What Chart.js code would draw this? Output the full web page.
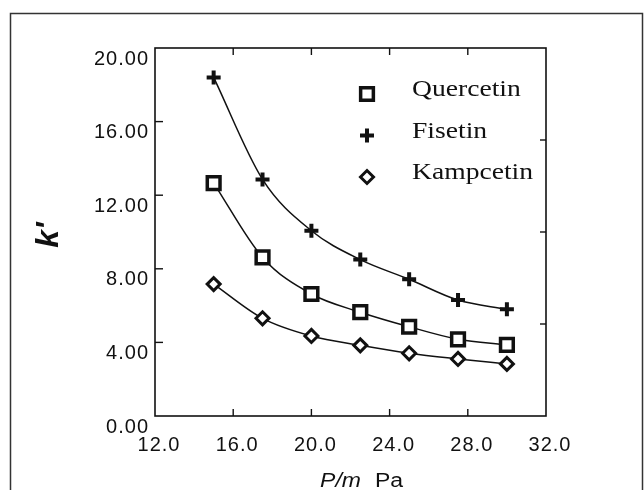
<!DOCTYPE html>
<html>
<head>
<meta charset="utf-8">
<title>k' vs P/m</title>
<script src="https://cdn.jsdelivr.net/npm/chart.js@4.4.1/dist/chart.umd.min.js"></script>
<style>
  html, body { margin: 0; padding: 0; background: #fff; }
  canvas { display: block; }
</style>
</head>
<body>
<canvas id="myChart" width="644" height="490"></canvas>
<script>
// Pressure (P/m, Pa)
const pressures = [15, 17.5, 20, 22.5, 25, 27.5, 30];

// k' values
const quercetin = [12.66, 8.62, 6.63, 5.64, 4.85, 4.17, 3.86];
const fisetin = [18.4, 12.86, 10.07, 8.5, 7.43, 6.3, 5.8];
const kampcetin = [7.17, 5.31, 4.35, 3.84, 3.41, 3.1, 2.83];

const seriesNames = ["Quercetin", "Fisetin", "Kampcetin"];

// inner tick marks on each side of the box
const bottomTicks = [16, 20, 24, 28];
const topTicks = [16, 20, 24, 28];
const leftTicks = [4, 8, 12, 16];
const rightTicks = [5, 10, 15];

const INK = "#111";

const toPoints = (ys) => pressures.map((x, i) => ({ x: x, y: ys[i] }));

const makeDataset = (label, ys, style, radius, width) => ({
    label: label,
    data: toPoints(ys),
    showLine: true,
    cubicInterpolationMode: "monotone",
    borderColor: INK,
    borderWidth: 1.5,
    pointStyle: style,
    pointRadius: radius,
    pointBorderWidth: width,
    pointBackgroundColor: "#fff",
    pointBorderColor: INK,
});

// draw text stretched horizontally (the scan is a bit wide)
const stretchText = (ctx, text, x, y, sx) => {
    ctx.save();
    ctx.translate(x, y);
    ctx.scale(sx, 1);
    ctx.fillText(text, 0, 0);
    ctx.restore();
};

const line = (ctx, x1, y1, x2, y2) => {
    ctx.beginPath();
    ctx.moveTo(x1, y1);
    ctx.lineTo(x2, y2);
    ctx.stroke();
};

const framePlugin = {
    id: "frame",
    beforeDraw(chart) {
        const ctx = chart.ctx;
        ctx.save();
        ctx.fillStyle = "#fff";
        ctx.fillRect(0, 0, chart.width, chart.height);
        ctx.strokeStyle = "#333";
        ctx.lineWidth = 1.5;
        ctx.strokeRect(10.5, 13.5, 632, 500);
        ctx.restore();
        // tick labels in the scan are spaced out a little
        if ("letterSpacing" in ctx) ctx.letterSpacing = "1px";
    },
    afterDraw(chart) {
        const ctx = chart.ctx;
        const a = chart.chartArea;
        const x = chart.scales.x;
        const y = chart.scales.y;
        if ("letterSpacing" in ctx) ctx.letterSpacing = "0px";
        ctx.save();
        ctx.strokeStyle = INK;
        ctx.lineWidth = 1.6;
        ctx.strokeRect(a.left, a.top, a.right - a.left, a.bottom - a.top);

        // inward ticks
        ctx.lineWidth = 1.4;
        bottomTicks.forEach((v) => {
            const px = x.getPixelForValue(v);
            line(ctx, px, a.bottom, px, a.bottom - 7);
        });
        topTicks.forEach((v) => {
            const px = x.getPixelForValue(v);
            line(ctx, px, a.top, px, a.top + 7);
        });
        leftTicks.forEach((v) => {
            const py = y.getPixelForValue(v);
            line(ctx, a.left, py, a.left + 8, py);
        });
        rightTicks.forEach((v) => {
            const py = y.getPixelForValue(v);
            line(ctx, a.right, py, a.right - 6, py);
        });

        // axis titles
        ctx.fillStyle = INK;
        ctx.save();
        ctx.translate(49, 235);
        ctx.rotate(-Math.PI / 2);
        ctx.font = "italic bold 32px 'Liberation Sans', Arial, sans-serif";
        ctx.textAlign = "center";
        ctx.textBaseline = "middle";
        ctx.fillText("k'", 0, 0);
        ctx.restore();

        ctx.textBaseline = "alphabetic";
        ctx.font = "italic 20px 'Liberation Sans', Arial, sans-serif";
        ctx.textAlign = "right";
        stretchText(ctx, "P/m", 361, 487, 1.15);
        ctx.font = "20px 'Liberation Sans', Arial, sans-serif";
        ctx.textAlign = "left";
        stretchText(ctx, "Pa", 375, 487, 1.15);

        // legend
        ctx.font = "24px 'Liberation Serif', 'Times New Roman', serif";
        ctx.textAlign = "left";
        chart.data.datasets.forEach((ds, i) => {
            const my = 94 + i * 41.5;
            ctx.strokeStyle = INK;
            ctx.fillStyle = "#fff";
            ctx.lineWidth = ds.pointBorderWidth;
            Chart.helpers.drawPoint(ctx, {
                pointStyle: ds.pointStyle,
                radius: ds.pointRadius,
                rotation: 0,
                borderWidth: ds.pointBorderWidth,
            }, 367, my);
            ctx.fillStyle = INK;
            stretchText(ctx, seriesNames[i], 412, my + 2, 1.15);
        });
        ctx.restore();
    },
};

const ctx = document.getElementById("myChart").getContext("2d");
const myChart = new Chart(ctx, {
    type: "scatter",
    data: {
        datasets: [
            makeDataset(seriesNames[0], quercetin, "rect", 9, 3.5),
            makeDataset(seriesNames[1], fisetin, "cross", 7, 4),
            makeDataset(seriesNames[2], kampcetin, "rectRot", 6.5, 3),
        ],
    },
    options: {
        responsive: false,
        animation: false,
        layout: { padding: { top: 48, right: 98, left: 0, bottom: 0 } },
        plugins: {
            legend: { display: false },
            tooltip: { enabled: false },
        },
        scales: {
            x: {
                type: "linear",
                min: 12,
                max: 32,
                grid: { display: false, drawTicks: false },
                border: { display: false },
                afterFit: (scale) => { scale.height = 74; },
                ticks: {
                    stepSize: 4,
                    padding: 17,
                    labelOffset: 4,
                    color: INK,
                    font: { family: "'Liberation Sans', Arial, sans-serif", size: 20 },
                    callback: (v) => v.toFixed(1),
                },
            },
            y: {
                min: 0,
                max: 20,
                grid: { display: false, drawTicks: false },
                border: { display: false },
                afterFit: (scale) => { scale.width = 155; },
                ticks: {
                    stepSize: 4,
                    padding: 6,
                    labelOffset: 11,
                    color: INK,
                    font: { family: "'Liberation Sans', Arial, sans-serif", size: 20 },
                    callback: (v) => v.toFixed(2),
                },
            },
        },
    },
    plugins: [framePlugin],
});
</script>
</body>
</html>
